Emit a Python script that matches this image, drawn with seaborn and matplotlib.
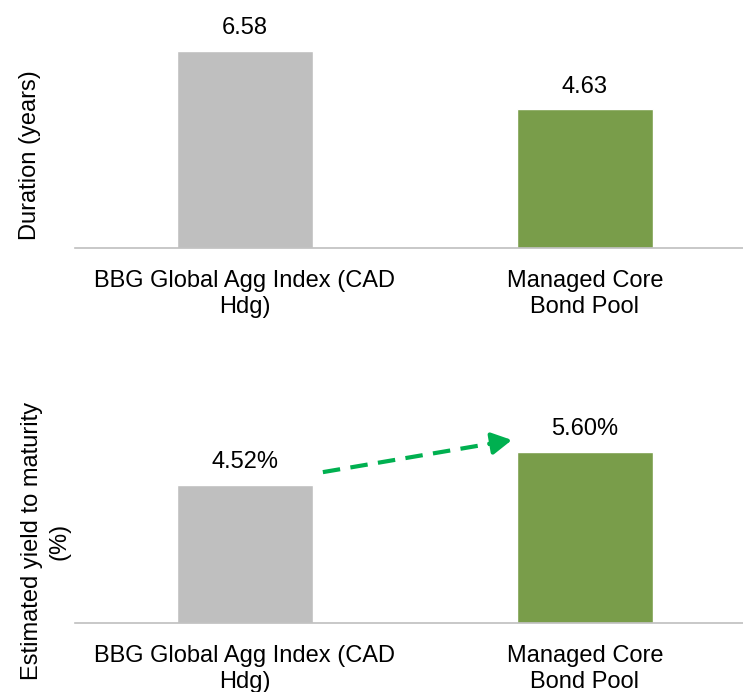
import numpy as np
import matplotlib
matplotlib.use("Agg")
import matplotlib.pyplot as plt
import seaborn as sns

# Données
categories = ["BBG Global Agg Index (CAD\nHdg)", "Managed Core\nBond Pool"]
duration = [6.58, 4.63]
ytm = [4.52, 5.60]
duration_labels = ["6.58", "4.63"]
ytm_labels = ["4.52%", "5.60%"]

gris = "#BFBFBF"
vert = "#799D4A"
vert_fleche = "#00B050"

sns.set_style("white")
plt.rcParams["font.family"] = ["Liberation Sans", "DejaVu Sans"]
plt.rcParams["font.size"] = 17
plt.rcParams["text.color"] = "black"
plt.rcParams["xtick.color"] = "black"

W, H = 743, 692
fig = plt.figure(figsize=(W / 100, H / 100), dpi=100)

ax1 = fig.add_axes([75 / W, 1 - 248 / H, 680 / W, 7 * 30.0 / H])
ax2 = fig.add_axes([75 / W, 1 - 623 / H, 680 / W, 7 * 30.6 / H])


def style_axe(ax, vals, labels):
    sns.barplot(x=categories, y=vals, hue=categories, palette=[gris, vert],
                width=0.4, errorbar=None, legend=False, ax=ax, saturation=1)
    ax.set_ylim(0, 7)
    ax.set_xlim(-0.5, 1.5)
    for s in ["top", "right", "left"]:
        ax.spines[s].set_visible(False)
    ax.spines["bottom"].set_color(gris)
    ax.spines["bottom"].set_linewidth(1.2)
    ax.set_yticks([])
    ax.tick_params(axis="x", length=0, pad=15.5, labelsize=17, labelcolor="black")
    ax.set_ylabel("")
    for lab in ax.get_xticklabels():
        lab.set_multialignment("center")
        lab.set_linespacing(1.25)
    for cont, txt in zip(ax.containers, labels):
        ax.bar_label(cont, labels=[txt], padding=8.3, fontsize=17,
                     color="black", clip_on=False)


style_axe(ax1, duration, duration_labels)
style_axe(ax2, ytm, ytm_labels)

# Flèche pointillée entre les deux barres
x0, y0 = 0.229, ytm[0] + 0.41
x1, y1 = 0.785, ytm[1] + 0.38
t = 0.93
xm, ym = x0 + t * (x1 - x0), y0 + t * (y1 - y0)
ax2.plot([x0, xm], [y0, ym], color=vert_fleche, linewidth=3,
         dashes=(4.2, 2.5), solid_capstyle="butt", dash_capstyle="butt")
ax2.annotate("", xy=(x1, y1), xytext=(x0 + 0.88 * (x1 - x0), y0 + 0.88 * (y1 - y0)),
             arrowprops=dict(arrowstyle="-|>,head_length=0.6,head_width=0.33",
                             mutation_scale=20, linewidth=3,
                             color=vert_fleche, shrinkA=0, shrinkB=0))

fig.text(30 / W, 1 - 155 / H, "Duration (years)", rotation=90,
         ha="center", va="center", fontsize=17)
fig.text(46 / W, 1 - 541 / H, "Estimated yield to maturity\n(%)", rotation=90,
         ha="center", va="center", fontsize=17, multialignment="center",
         linespacing=1.35)

fig.savefig("out.png", dpi=100)
